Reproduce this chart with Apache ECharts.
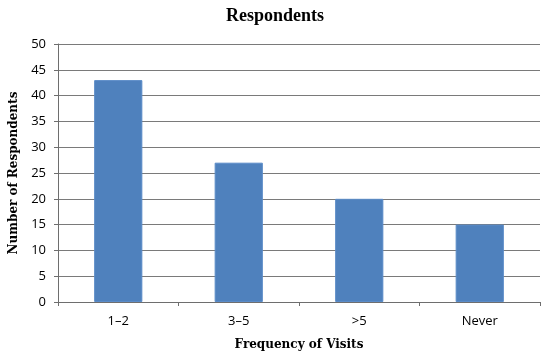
<!DOCTYPE html>
<html><head><meta charset="utf-8">
<script src="https://cdn.jsdelivr.net/npm/echarts@6/dist/echarts.min.js"></script>
<style>html,body{margin:0;padding:0;background:#fff}#c{width:550px;height:359px}</style>
</head><body><div id="c"></div>
<script>
const categories = ['1\u20132', '3\u20135', '>5', 'Never'];
const respondents = [43, 27, 20, 15];
const chart = echarts.init(document.getElementById('c'), null, {renderer: 'canvas'});
const serif = '"DejaVu Serif", "Liberation Serif", serif';
const sans = '"Open Sans", "Liberation Sans", sans-serif';
chart.setOption({
  animation: false,
  title: {text: 'Respondents', left: 'center', top: 2,
    textStyle: {fontFamily: '"Liberation Serif", serif', fontWeight: 'bold', fontSize: 18, color: '#000'}},
  grid: {left: 56, right: 10, top: 44, bottom: 57},
  xAxis: {type: 'category', data: categories,
    name: 'Frequency of Visits', nameLocation: 'middle', nameGap: 37,
    nameTextStyle: {fontFamily: serif, fontWeight: 'bold', fontSize: 12, color: '#000'},
    axisLine: {lineStyle: {color: '#6e6e6e', width: 1}},
    axisTick: {show: true, length: 4, lineStyle: {color: '#6e6e6e'}},
    axisLabel: {fontFamily: sans, fontSize: 13, color: '#000', margin: 13}},
  yAxis: {type: 'value', min: 0, max: 50, interval: 5,
    name: 'Number of Respondents', nameLocation: 'middle', nameGap: 38,
    nameTextStyle: {fontFamily: serif, fontWeight: 'bold', fontSize: 12, color: '#000'},
    axisLine: {show: true, lineStyle: {color: '#6e6e6e', width: 1}},
    axisTick: {show: true, length: 4, lineStyle: {color: '#6e6e6e'}},
    splitLine: {lineStyle: {color: '#7a7a7a', width: 1}},
    axisLabel: {fontFamily: sans, fontSize: 13, color: '#000', margin: 12}},
  series: [{type: 'bar', data: respondents, barWidth: '40%',
    itemStyle: {color: '#4F81BD', borderColor: '#5B8CC8', borderWidth: 1}}]
});
</script></body></html>
